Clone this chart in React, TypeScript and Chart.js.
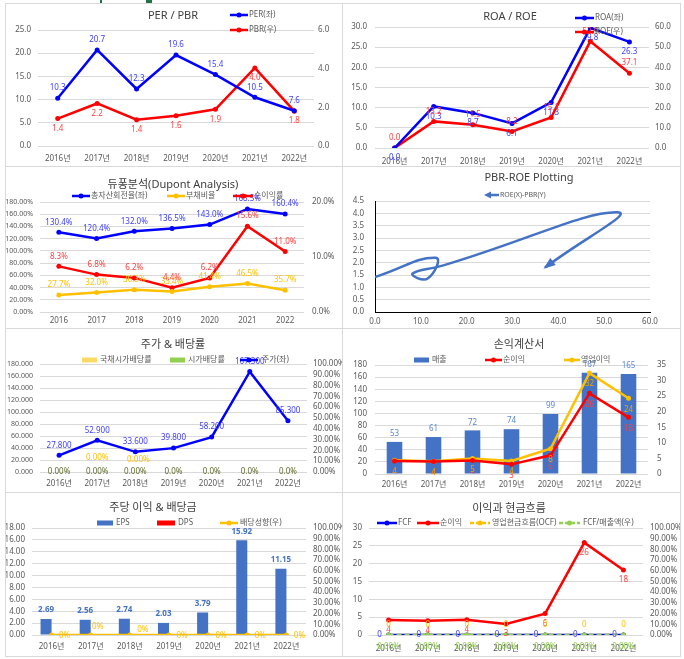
import React, { useEffect, useRef } from 'react';
import { Chart, registerables } from 'chart.js';
Chart.register(...registerables);

// ---------- data ----------
const YEARS = ['2016', '2017', '2018', '2019', '2020', '2021', '2022'];
const YEAR_LABELS = YEARS.map((y) => y + '년');

const PER = [10.3, 20.7, 12.3, 19.6, 15.4, 10.5, 7.6];
const PBR = [1.42, 2.2, 1.36, 1.56, 1.9, 4.04, 1.8];
const ROA = [0.0, 10.3, 8.7, 6.1, 11.3, 29.8, 26.3];
const ROE = [0.0, 13.2, 11.5, 8.2, 15.1, 52.9, 37.1];
const ASSET_TURNOVER = [130.4, 120.4, 132.0, 136.5, 143.0, 168.5, 160.4];
const DEBT_RATIO = [27.7, 32.0, 36.3, 33.4, 41.4, 46.5, 35.7];
const NET_MARGIN = [8.3, 6.8, 6.2, 4.4, 6.2, 15.6, 11.0];
const PRICE = [27800, 52900, 33600, 39800, 58200, 167300, 85300];
const BOND_YIELD = [0, 0, 0, 0, 0, 0, 0];
const DIV_YIELD = [0, 0, 0, 0, 0, 0, 0];
const SALES = [53, 61, 72, 74, 99, 167, 165];
const NET_INCOME = [4.2, 4.0, 4.3, 3.1, 6.0, 25.9, 18.2];
const OP_INCOME = [4.4, 4.1, 5.0, 4.2, 8.1, 32.4, 24.3];
const EPS = [2.69, 2.56, 2.74, 2.03, 3.79, 15.92, 11.15];
const DPS = [0, 0, 0, 0, 0, 0, 0];
const PAYOUT = [0, 0, 0, 0, 0, 0, 0];
const FCF = [0, 0, 0, 0, 0, 0, 0];
const OCF = [0, 0, 0, 0, 0, 0, 0];
const FCF_TO_SALES = [0, 0, 0, 0, 0, 0, 0];

// ---------- style ----------
const FONT = "'Noto Sans', 'Noto Sans CJK KR', sans-serif";
const TICK = '#595959';
const GRID = '#d9d9d9';
const BLUE = '#0000ff';
const RED = '#ff0000';
const YELLOW = '#ffc000';
const XBLUE = '#4472c4';
const GREEN = '#92d050';
const LYELLOW = '#ffd966';
const LBL_BLUE = '#4040ff';
const LBL_RED = '#ff4040';

const f1 = (v: number) => v.toFixed(1);

function yAxis(o: any) {
  return {
    type: 'linear',
    position: o.pos,
    min: o.min,
    max: o.max,
    ticks: {
      stepSize: o.step,
      padding: o.pad,
      color: TICK,
      autoSkip: false,
      font: { family: FONT, size: o.size || 8 },
      callback: (v: any) => o.fmt(Number(v)),
    },
    grid: { display: !!o.grid, color: GRID, drawTicks: false, lineWidth: 1 },
    border: o.border ? { display: true, color: '#000', width: 1 } : { display: false },
    afterFit: (s: any) => {
      s.width = o.width;
    },
  };
}

function xCat(pad: number, height: number, labels: string[]) {
  return {
    type: 'category',
    labels,
    offset: true,
    grid: { display: false, drawTicks: false },
    border: { display: false },
    ticks: { padding: pad, color: TICK, maxRotation: 0, autoSkip: false, font: { family: FONT, size: 8 } },
    afterFit: (s: any) => {
      s.height = height;
    },
  };
}

function base(pad: any, scales: any) {
  return {
    responsive: false,
    animation: false,
    devicePixelRatio: 1,
    events: [],
    layout: { padding: { top: pad.t || 0, left: pad.l || 0, right: pad.r || 0, bottom: pad.b || 0 } },
    plugins: { legend: { display: false }, title: { display: false }, tooltip: { enabled: false } },
    scales,
  };
}

function lineDs(label: string, data: number[], color: string, axis: string, extra: any = {}) {
  return {
    type: 'line',
    label,
    data,
    borderColor: color,
    backgroundColor: color,
    borderWidth: 2.5,
    pointRadius: 2.5,
    pointBackgroundColor: color,
    pointBorderColor: color,
    pointBorderWidth: 0,
    tension: 0,
    fill: false,
    yAxisID: axis,
    ...extra,
  };
}

function barDs(label: string, data: number[], color: string, axis: string, extra: any = {}) {
  return { type: 'bar', label, data, backgroundColor: color, borderWidth: 0, yAxisID: axis, ...extra };
}

function labels(specs: any[]) {
  return {
    id: 'valueLabels',
    afterDatasetsDraw(chart: any) {
      const ctx = chart.ctx;
      ctx.save();
      ctx.textAlign = 'center';
      ctx.textBaseline = 'middle';
      specs.forEach((s: any, di: number) => {
        if (!s) return;
        const meta = chart.getDatasetMeta(di);
        const data = chart.data.datasets[di].data;
        ctx.font = `${s.bold ? 'bold ' : ''}8px ${FONT}`;
        ctx.fillStyle = s.color;
        meta.data.forEach((el: any, i: number) => {
          const raw = data[i];
          const v = typeof raw === 'number' ? raw : raw.y;
          const t = s.text(v, i);
          if (t === null || t === undefined) return;
          const dx = Array.isArray(s.dx) ? s.dx[i] : s.dx || 0;
          const dy = Array.isArray(s.dy) ? s.dy[i] : s.dy || 0;
          const x = s.center ? chart.scales.x.getPixelForValue(i) : el.x;
          ctx.fillText(t, x + dx, el.y + dy);
        });
      });
      ctx.restore();
    },
  };
}

function decor(title: any, items: any[]) {
  return {
    id: 'decor',
    afterDraw(chart: any) {
      const ctx = chart.ctx;
      ctx.save();
      ctx.font = `11px ${FONT}`;
      ctx.fillStyle = '#404040';
      ctx.textAlign = 'center';
      ctx.textBaseline = 'middle';
      ctx.fillText(title.text, title.x, title.y);
      items.forEach((it: any) => {
        ctx.strokeStyle = it.color;
        ctx.fillStyle = it.color;
        ctx.lineWidth = 2.5;
        if (it.kind === 'box') {
          ctx.fillRect(it.x1, it.y - 2.5, it.x2 - it.x1, 5);
        } else {
          ctx.setLineDash(it.kind === 'dash' ? [4, 2] : []);
          ctx.beginPath();
          ctx.moveTo(it.kind === 'arrow' ? it.x1 + 5 : it.x1, it.y);
          ctx.lineTo(it.x2, it.y);
          ctx.stroke();
          ctx.setLineDash([]);
          if (it.kind === 'arrow') {
            ctx.beginPath();
            ctx.moveTo(it.x1, it.y);
            ctx.lineTo(it.x1 + 7, it.y - 3.5);
            ctx.lineTo(it.x1 + 7, it.y + 3.5);
            ctx.closePath();
            ctx.fill();
          } else {
            ctx.beginPath();
            ctx.arc((it.x1 + it.x2) / 2, it.y, 2.5, 0, Math.PI * 2);
            ctx.fill();
          }
        }
        ctx.font = `${it.size || 8}px ${FONT}`;
        ctx.fillStyle = '#595959';
        ctx.textAlign = 'left';
        ctx.fillText(it.text, it.tx, it.y);
      });
      ctx.restore();
    },
  };
}

const arrowEnd = {
  id: 'arrowEnd',
  afterDatasetsDraw(chart: any) {
    const pts = chart.getDatasetMeta(0).data as any[];
    const n = pts.length;
    if (n < 2) return;
    const p = pts[n - 1];
    const px = p.cp1x !== undefined ? p.cp1x : pts[n - 2].x;
    const py = p.cp1y !== undefined ? p.cp1y : pts[n - 2].y;
    let dx = p.x - px;
    let dy = p.y - py;
    const len = Math.hypot(dx, dy) || 1;
    dx /= len;
    dy /= len;
    const L = 10;
    const W = 4.5;
    const ctx = chart.ctx;
    ctx.save();
    ctx.fillStyle = XBLUE;
    ctx.beginPath();
    ctx.moveTo(p.x + dx * 2, p.y + dy * 2);
    ctx.lineTo(p.x - dx * L - dy * W, p.y - dy * L + dx * W);
    ctx.lineTo(p.x - dx * L + dy * W, p.y - dy * L - dx * W);
    ctx.closePath();
    ctx.fill();
    ctx.restore();
  },
};

// ---------- chart specs ----------
const specs: any[] = [
  // 1. PER / PBR
  {
    box: { x: 5, y: 3, w: 338, h: 164 },
    build: () => ({
      type: 'line',
      data: {
        labels: YEAR_LABELS,
        datasets: [lineDs('PER(좌)', PER, BLUE, 'y'), lineDs('PBR(우)', PBR, RED, 'y1')],
      },
      options: base({ t: 26 }, {
        x: xCat(8, 20, YEAR_LABELS),
        y: yAxis({ pos: 'left', min: 0, max: 25, step: 5, width: 32, pad: 7, fmt: f1, grid: true }),
        y1: yAxis({ pos: 'right', min: 0, max: 6, step: 2, width: 28, pad: 4, fmt: f1 }),
      }),
      plugins: [
        labels([
          { color: LBL_BLUE, dy: -10, text: f1 },
          { color: LBL_RED, dy: 10, text: f1 },
        ]),
        decor({ text: 'PER / PBR', x: 167, y: 12 }, [
          { kind: 'line', color: BLUE, x1: 224, x2: 242, tx: 243, y: 11, text: 'PER(좌)' },
          { kind: 'line', color: RED, x1: 224, x2: 242, tx: 243, y: 26, text: 'PBR(우)' },
        ]),
      ],
    }),
  },
  // 2. ROA / ROE
  {
    box: { x: 342, y: 3, w: 339, h: 164 },
    build: () => ({
      type: 'line',
      data: {
        labels: YEAR_LABELS,
        datasets: [lineDs('ROA(좌)', ROA, BLUE, 'y'), lineDs('ROE(우)', ROE, RED, 'y1')],
      },
      options: base({ t: 23 }, {
        x: xCat(9, 18, YEAR_LABELS),
        y: yAxis({ pos: 'left', min: 0, max: 30, step: 5, width: 32, pad: 8, fmt: f1, grid: true }),
        y1: yAxis({ pos: 'right', min: 0, max: 60, step: 10, width: 31, pad: 6, fmt: f1 }),
      }),
      plugins: [
        labels([
          { color: LBL_BLUE, dy: 10, text: f1 },
          { color: LBL_RED, dy: -10, text: f1 },
        ]),
        decor({ text: 'ROA / ROE', x: 167, y: 13 }, [
          { kind: 'line', color: BLUE, x1: 232, x2: 251, tx: 252, y: 14, text: 'ROA(좌)' },
          { kind: 'line', color: RED, x1: 232, x2: 251, tx: 252, y: 28, text: 'ROE(우)' },
        ]),
      ],
    }),
  },
  // 3. Dupont
  {
    box: { x: 5, y: 166, w: 338, h: 163 },
    build: () => ({
      type: 'line',
      data: {
        labels: YEARS,
        datasets: [
          lineDs('총자산회전율(좌)', ASSET_TURNOVER, BLUE, 'y'),
          lineDs('부채비율', DEBT_RATIO, YELLOW, 'y'),
          lineDs('순이익률', NET_MARGIN, RED, 'y1'),
        ],
      },
      options: base({ t: 35 }, {
        x: xCat(4, 16, YEARS),
        y: yAxis({ pos: 'left', min: 0, max: 180, step: 20, width: 34, pad: 7, size: 7, fmt: (v: number) => v.toFixed(2) + '%', grid: true }),
        y1: yAxis({ pos: 'right', min: 0, max: 20, step: 10, width: 38, pad: 8, fmt: (v: number) => v.toFixed(1) + '%' }),
      }),
      plugins: [
        labels([
          { color: LBL_BLUE, dy: -10, text: (v: number) => v.toFixed(1) + '%' },
          { color: YELLOW, dy: -10, text: (v: number) => v.toFixed(1) + '%' },
          { color: LBL_RED, dy: -10, text: (v: number) => v.toFixed(1) + '%' },
        ]),
        decor({ text: '듀퐁분석(Dupont Analysis)', x: 167, y: 18 }, [
          { kind: 'line', color: BLUE, x1: 66, x2: 84, tx: 85, y: 29, text: '총자산회전율(좌)' },
          { kind: 'line', color: YELLOW, x1: 161, x2: 179, tx: 180, y: 29, text: '부채비율' },
          { kind: 'line', color: RED, x1: 227, x2: 247, tx: 248, y: 29, text: '순이익률' },
        ]),
      ],
    }),
  },
  // 4. PBR-ROE plotting
  {
    box: { x: 342, y: 166, w: 339, h: 163 },
    build: () => ({
      type: 'scatter',
      data: {
        datasets: [
          {
            label: 'ROE(X)-PBR(Y)',
            data: ROE.map((x, i) => ({ x, y: PBR[i] })),
            showLine: true,
            borderColor: XBLUE,
            backgroundColor: XBLUE,
            borderWidth: 2.5,
            pointRadius: 0,
            tension: 0.5,
          },
        ],
      },
      options: base({ t: 34, r: 30 }, {
        x: {
          type: 'linear',
          min: 0,
          max: 60,
          ticks: { stepSize: 10, padding: 5, color: TICK, font: { family: FONT, size: 8 }, callback: (v: any) => Number(v).toFixed(1) },
          grid: { display: false, drawTicks: false },
          border: { display: true, color: '#000', width: 1 },
          afterFit: (s: any) => {
            s.height = 16;
          },
        },
        y: yAxis({ pos: 'left', min: 0, max: 4.5, step: 0.5, width: 32, pad: 11, fmt: f1, grid: true, border: true }),
      }),
      plugins: [
        arrowEnd,
        decor({ text: 'PBR-ROE Plotting', x: 186, y: 11 }, [
          { kind: 'arrow', color: XBLUE, x1: 141, x2: 156, tx: 157, y: 28, text: 'ROE(X)-PBR(Y)', size: 7 },
        ]),
      ],
    }),
  },
  // 5. 주가 & 배당률
  {
    box: { x: 5, y: 328, w: 338, h: 165 },
    build: () => ({
      type: 'bar',
      data: {
        labels: YEAR_LABELS,
        datasets: [
          barDs('국채시가배당률', BOND_YIELD, LYELLOW, 'y1', { order: 2 }),
          barDs('시가배당률', DIV_YIELD, GREEN, 'y1', { order: 2 }),
          lineDs('주가(좌)', PRICE, BLUE, 'y', { order: 0 }),
        ],
      },
      options: base({ t: 35 }, {
        x: xCat(7, 20, YEAR_LABELS),
        y: yAxis({ pos: 'left', min: 0, max: 180000, step: 20000, width: 34, pad: 7, size: 7, fmt: (v: number) => (v / 1000).toFixed(3), grid: true }),
        y1: yAxis({ pos: 'right', min: 0, max: 100, step: 10, width: 35, pad: 6, fmt: (v: number) => v.toFixed(2) + '%' }),
      }),
      plugins: [
        labels([
          { color: YELLOW, center: true, dx: [0, 0, 3, 0, 0, 0, 0], dy: [0, -14, -12, 0, 0, 0, 0], text: (v: number, i: number) => (i === 1 || i === 2 ? v.toFixed(2) + '%' : null) },
          { color: '#5e6b2c', center: true, dy: 0, text: (v: number, i: number) => (i < 3 ? v.toFixed(2) : v.toFixed(1)) + '%' },
          { color: LBL_BLUE, dy: -10, text: (v: number) => (v / 1000).toFixed(3) },
        ]),
        decor({ text: '주가 & 배당률', x: 167, y: 16 }, [
          { kind: 'box', color: LYELLOW, x1: 76, x2: 91, tx: 94, y: 31, text: '국채시가배당률' },
          { kind: 'box', color: GREEN, x1: 164, x2: 179, tx: 182, y: 31, text: '시가배당률' },
          { kind: 'line', color: BLUE, x1: 234, x2: 252, tx: 256, y: 31, text: '주가(좌)' },
        ]),
      ],
    }),
  },
  // 6. 손익계산서
  {
    box: { x: 342, y: 328, w: 339, h: 165 },
    build: () => ({
      type: 'bar',
      data: {
        labels: YEAR_LABELS,
        datasets: [
          barDs('매출', SALES, XBLUE, 'y', { order: 2, barPercentage: 0.4, categoryPercentage: 1 }),
          lineDs('순이익', NET_INCOME, RED, 'y1', { order: 0 }),
          lineDs('영업이익', OP_INCOME, YELLOW, 'y1', { order: 1 }),
        ],
      },
      options: base({ t: 36 }, {
        x: xCat(6, 18, YEAR_LABELS),
        y: yAxis({ pos: 'left', min: 0, max: 180, step: 20, width: 32, pad: 8, fmt: (v: number) => v.toFixed(0), grid: true }),
        y1: yAxis({ pos: 'right', min: 0, max: 35, step: 5, width: 32, pad: 9, fmt: (v: number) => v.toFixed(0) }),
      }),
      plugins: [
        labels([
          { color: '#5b86d6', dy: -8, text: (v: number) => v.toFixed(0) },
          { color: LBL_RED, dy: 11, text: (v: number) => v.toFixed(0) },
          { color: '#e8a900', dy: 11, text: (v: number) => v.toFixed(0) },
        ]),
        decor({ text: '손익계산서', x: 176, y: 16 }, [
          { kind: 'box', color: XBLUE, x1: 71, x2: 86, tx: 89, y: 31, text: '매출' },
          { kind: 'line', color: RED, x1: 142, x2: 159, tx: 160, y: 31, text: '순이익' },
          { kind: 'line', color: YELLOW, x1: 221, x2: 237, tx: 238, y: 31, text: '영업이익' },
        ]),
      ],
    }),
  },
  // 7. 주당 이익 & 배당금
  {
    box: { x: 5, y: 492, w: 338, h: 165 },
    build: () => ({
      type: 'bar',
      data: {
        labels: YEAR_LABELS,
        datasets: [
          barDs('EPS', EPS, XBLUE, 'y', { order: 2, barPercentage: 1, categoryPercentage: 0.564 }),
          barDs('DPS', DPS, RED, 'y', { order: 2, barPercentage: 1, categoryPercentage: 0.564 }),
          lineDs('배당성향(우)', PAYOUT, YELLOW, 'y1', { order: 0 }),
        ],
      },
      options: base({ t: 35 }, {
        x: xCat(7, 21, YEAR_LABELS),
        y: yAxis({ pos: 'left', min: 0, max: 18, step: 2, width: 26, pad: 7, fmt: (v: number) => v.toFixed(2), grid: true }),
        y1: yAxis({ pos: 'right', min: 0, max: 100, step: 10, width: 36, pad: 7, fmt: (v: number) => v.toFixed(2) + '%' }),
      }),
      plugins: [
        labels([
          { color: XBLUE, bold: true, dy: -9, text: (v: number) => v.toFixed(2) },
          null,
          { color: YELLOW, dx: [13, 7, 13, 13, 13, 13, 13], dy: [1, -8, -5, 1, 1, 1, 1], text: (v: number) => v.toFixed(0) + '%' },
        ]),
        decor({ text: '주당 이익 & 배당금', x: 147, y: 15 }, [
          { kind: 'box', color: XBLUE, x1: 91, x2: 107, tx: 110, y: 30, text: 'EPS' },
          { kind: 'box', color: RED, x1: 151, x2: 169, tx: 172, y: 30, text: 'DPS' },
          { kind: 'line', color: YELLOW, x1: 214, x2: 232, tx: 234, y: 30, text: '배당성향(우)' },
        ]),
      ],
    }),
  },
  // 8. 이익과 현금흐름
  {
    box: { x: 342, y: 492, w: 339, h: 165 },
    build: () => ({
      type: 'line',
      data: {
        labels: YEAR_LABELS,
        datasets: [
          lineDs('FCF', FCF, BLUE, 'y', { order: 2 }),
          lineDs('순이익', NET_INCOME, RED, 'y', { order: 0 }),
          lineDs('영업현금흐름(OCF)', OCF, YELLOW, 'y', { order: 3, borderDash: [5, 3] }),
          lineDs('FCF/매출액(우)', FCF_TO_SALES, GREEN, 'y1', { order: 1, borderDash: [5, 3] }),
        ],
      },
      options: base({ t: 35 }, {
        x: xCat(9, 21, YEAR_LABELS),
        y: yAxis({ pos: 'left', min: 0, max: 30, step: 5, width: 26, pad: 7, fmt: (v: number) => v.toFixed(0), grid: true }),
        y1: yAxis({ pos: 'right', min: 0, max: 100, step: 10, width: 37, pad: 7, fmt: (v: number) => v.toFixed(2) + '%' }),
      }),
      plugins: [
        labels([
          { color: LBL_BLUE, dx: -9, dy: 0, text: (v: number) => v.toFixed(0) },
          { color: LBL_RED, dy: 10, text: (v: number) => v.toFixed(0) },
          { color: YELLOW, dy: -10, text: (v: number) => v.toFixed(0) },
          { color: GREEN, dy: 12, text: (v: number) => v.toFixed(2) + '%' },
        ]),
        decor({ text: '이익과 현금흐름', x: 166, y: 16 }, [
          { kind: 'line', color: BLUE, x1: 34, x2: 54, tx: 55, y: 30, text: 'FCF' },
          { kind: 'line', color: RED, x1: 74, x2: 96, tx: 97, y: 30, text: '순이익' },
          { kind: 'dash', color: YELLOW, x1: 127, x2: 147, tx: 149, y: 30, text: '영업현금흐름(OCF)' },
          { kind: 'dash', color: GREEN, x1: 216, x2: 237, tx: 240, y: 30, text: 'FCF/매출액(우)' },
        ]),
      ],
    }),
  },
];

function Panel({ spec }: { spec: any }) {
  const ref = useRef<HTMLCanvasElement>(null);
  const { x, y, w, h } = spec.box;
  useEffect(() => {
    const chart = new Chart(ref.current as HTMLCanvasElement, spec.build());
    return () => chart.destroy();
  }, []);
  return (
    <div
      style={{
        position: 'absolute',
        left: x,
        top: y,
        width: w,
        height: h,
        boxSizing: 'border-box',
        border: '1px solid #d9d9d9',
        background: '#fff',
      }}
    >
      <canvas ref={ref} width={w - 2} height={h - 2} style={{ display: 'block', width: w - 2, height: h - 2 }} />
    </div>
  );
}

export default function App() {
  return (
    <div style={{ position: 'absolute', left: 0, top: 0, width: 684, height: 659, background: '#fff', overflow: 'hidden' }}>
      <div style={{ position: 'absolute', left: 100, top: 0, width: 2, height: 4, background: '#217346' }} />
      <div style={{ position: 'absolute', left: 146, top: 0, width: 6, height: 4, background: '#217346' }} />
      {specs.map((s, i) => (
        <Panel key={i} spec={s} />
      ))}
    </div>
  );
}
